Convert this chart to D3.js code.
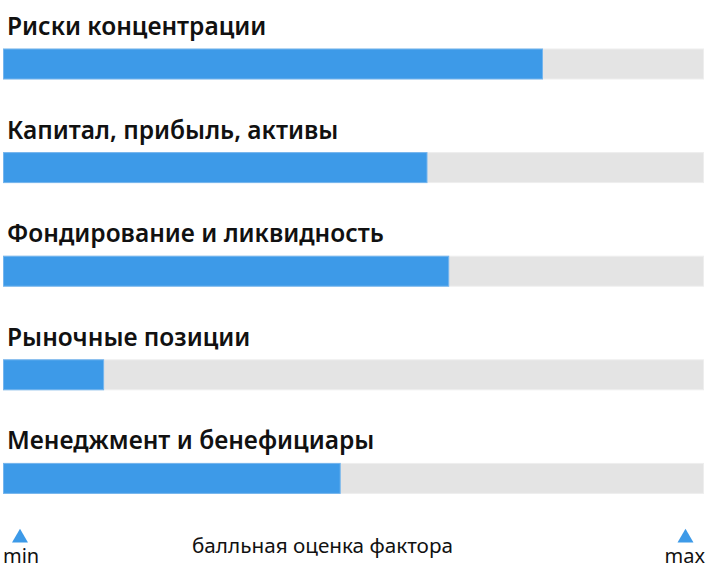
<!DOCTYPE html>
<html>
<head>
<meta charset="utf-8">
<script src="https://cdn.jsdelivr.net/npm/d3@7"></script>
<style>
  html, body { margin: 0; padding: 0; background: #fff; }
  svg { display: block; }
</style>
</head>
<body>
<svg id="chart" width="706" height="575"></svg>
<script>
const categories = [
  "Риски концентрации",
  "Капитал, прибыль, активы",
  "Фондирование и ликвидность",
  "Рыночные позиции",
  "Менеджмент и бенефициары"
];
const values = [77.0, 60.5, 63.6, 14.3, 48.1];
const scaleLabels = ["min", "max"];
const axisTitle = "балльная оценка фактора";

const svg = d3.select("#chart");

const x = d3.scaleLinear().domain([0, 100]).range([3.5, 703.5]);
const y = d3.scaleBand().domain(categories).range([19, 537]).paddingInner(0).paddingOuter(0);
const barH = 30;
const barOffset = 30;

const g = svg.append("g");

const rows = g.selectAll("g.row").data(categories).join("g").attr("class", "row")
  .attr("transform", d => `translate(0,${y(d)})`);

rows.append("rect")
  .attr("x", x(0)).attr("y", barOffset)
  .attr("width", x(100) - x(0)).attr("height", barH)
  .attr("fill", "#e4e4e4").attr("stroke", "#eeeeee").attr("stroke-width", 1);

rows.append("rect")
  .attr("x", x(0)).attr("y", barOffset)
  .attr("width", (d, i) => x(values[i]) - x(0)).attr("height", barH)
  .attr("fill", "#3d9ae8").attr("stroke", "#74b5ee").attr("stroke-width", 1);

rows.append("text")
  .attr("x", 7).attr("y", barOffset - 14)
  .attr("font-family", "'Noto Sans', 'Open Sans', sans-serif")
  .attr("font-weight", 600)
  .attr("font-size", 24.5)
  .attr("fill", "#111")
  .text(d => d);

const tri = d3.symbol().type(d3.symbolTriangle).size(110);
const ends = [x(0) + 16.5, x(100) - 18];
g.selectAll("path.tri").data(ends).join("path").attr("class", "tri")
  .attr("d", tri)
  .attr("transform", d => `translate(${d},${538})`)
  .attr("fill", "#3d9ae8");

g.append("text").attr("x", 3).attr("y", 563)
  .attr("font-family", "'Noto Sans', sans-serif").attr("font-size", 20).attr("fill", "#111")
  .text(scaleLabels[0]);
g.append("text").attr("x", 705).attr("y", 563).attr("text-anchor", "end")
  .attr("font-family", "'Noto Sans', sans-serif").attr("font-size", 20).attr("fill", "#111")
  .text(scaleLabels[1]);
g.append("text").attr("x", 322.5).attr("y", 553).attr("text-anchor", "middle")
  .attr("font-family", "'Noto Sans', sans-serif").attr("font-size", 20.7).attr("fill", "#111")
  .text(axisTitle);
</script>
</body>
</html>
